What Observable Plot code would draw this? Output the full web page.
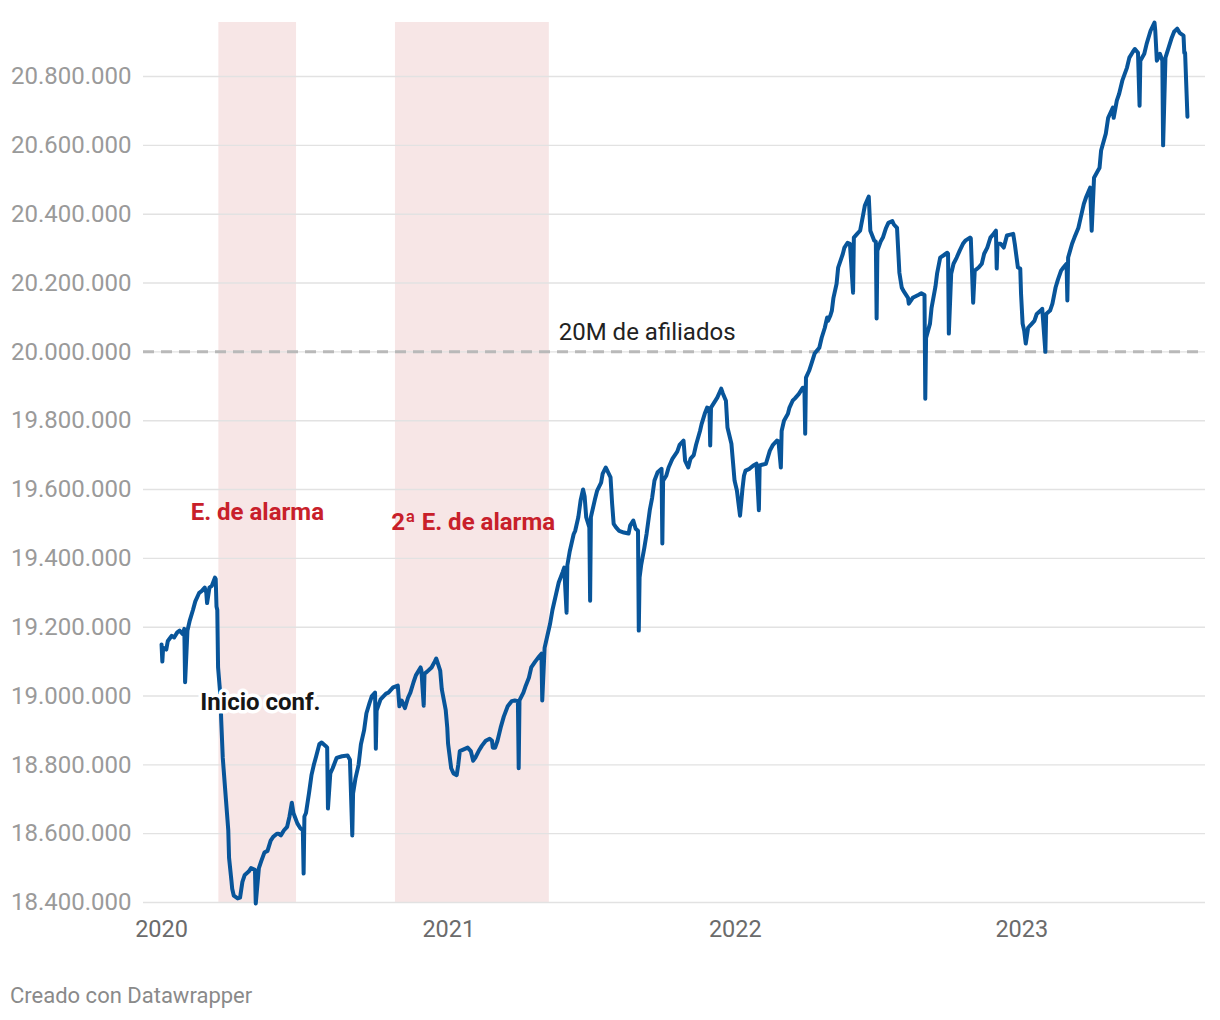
<!DOCTYPE html>
<html>
<head>
<meta charset="utf-8">
<script src="https://cdn.jsdelivr.net/npm/d3@7"></script>
<script src="https://cdn.jsdelivr.net/npm/@observablehq/plot@0.6"></script>
<style>
  html, body { margin: 0; padding: 0; background: #fff; }
  body { width: 1220px; height: 1020px; position: relative; font-family: Roboto, sans-serif; }
  #chart svg { display: block; }
  #chart g[aria-label^="y-axis"] text { fill: #9a9a9a; font-size: 24px; }
  #chart g[aria-label^="x-axis"] text { fill: #6b6b6b; font-size: 23.5px; }
  #credit { position: absolute; left: 10px; top: 983px; font-size: 22px; color: #8a8a8a; font-family: Roboto, sans-serif; }
</style>
</head>
<body>
<div id="chart"></div>
<div id="credit">Creado con Datawrapper</div>
<script>
// Afiliados a la Seguridad Social (miles), lectura aproximada del gráfico
const fechas2020 = ["2020-01-01","2020-01-02","2020-01-03","2020-01-07","2020-01-09","2020-01-14","2020-01-17","2020-01-21","2020-01-24","2020-01-28","2020-01-30","2020-01-31","2020-02-03","2020-02-06","2020-02-10","2020-02-13","2020-02-18","2020-02-21","2020-02-25","2020-02-27","2020-02-28","2020-03-02","2020-03-05","2020-03-09","2020-03-10","2020-03-11","2020-03-12","2020-03-13","2020-03-16","2020-03-17","2020-03-19","2020-03-20","2020-03-23","2020-03-25","2020-03-26","2020-03-27","2020-03-30","2020-03-31","2020-04-02","2020-04-07","2020-04-10","2020-04-13","2020-04-16","2020-04-21","2020-04-24","2020-04-29","2020-04-30","2020-05-04","2020-05-07","2020-05-11","2020-05-15","2020-05-19","2020-05-22","2020-05-27","2020-05-29","2020-06-01","2020-06-05","2020-06-09","2020-06-12","2020-06-15","2020-06-17","2020-06-22","2020-06-26","2020-06-29","2020-06-30","2020-07-01","2020-07-03","2020-07-07","2020-07-10","2020-07-13","2020-07-16","2020-07-20","2020-07-23","2020-07-28","2020-07-30","2020-07-31","2020-08-03","2020-08-06","2020-08-11","2020-08-18","2020-08-25","2020-08-28","2020-08-31","2020-09-01","2020-09-04","2020-09-08","2020-09-11","2020-09-15","2020-09-18","2020-09-22","2020-09-25","2020-09-29","2020-09-30","2020-10-01","2020-10-06","2020-10-13","2020-10-16","2020-10-22","2020-10-28","2020-10-30","2020-11-02","2020-11-06","2020-11-10","2020-11-13","2020-11-17","2020-11-20","2020-11-26","2020-11-27","2020-11-30","2020-12-01","2020-12-04","2020-12-10","2020-12-14","2020-12-16","2020-12-18","2020-12-21","2020-12-23","2020-12-28","2020-12-30","2020-12-31"];
const miles2020 = [19150,19100,19140,19135,19160,19175,19170,19185,19190,19180,19195,19040,19190,19220,19250,19275,19300,19305,19315,19300,19270,19315,19320,19344,19340,19260,19250,19083,19000,18930,18820,18790,18700,18640,18610,18530,18464,18440,18420,18412,18414,18460,18480,18490,18500,18495,18397,18500,18520,18545,18550,18580,18590,18600,18600,18595,18610,18620,18650,18690,18660,18630,18615,18610,18484,18650,18660,18720,18770,18800,18825,18860,18865,18855,18850,18673,18775,18790,18820,18825,18827,18815,18595,18717,18760,18800,18860,18900,18950,18980,19000,19010,18847,18958,18990,19007,19010,19025,19030,18970,18987,18965,18995,19010,19040,19060,19083,19075,18972,19065,19070,19083,19100,19109,19095,19074,19020,18960,18908,18862];

const fechas2021 = ["2021-01-04","2021-01-07","2021-01-11","2021-01-13","2021-01-15","2021-01-20","2021-01-25","2021-01-29","2021-02-01","2021-02-04","2021-02-08","2021-02-12","2021-02-17","2021-02-22","2021-02-25","2021-02-26","2021-03-01","2021-03-04","2021-03-08","2021-03-12","2021-03-17","2021-03-22","2021-03-26","2021-03-30","2021-03-31","2021-04-01","2021-04-06","2021-04-09","2021-04-13","2021-04-16","2021-04-21","2021-04-26","2021-04-29","2021-04-30","2021-05-03","2021-05-05","2021-05-10","2021-05-13","2021-05-18","2021-05-21","2021-05-26","2021-05-28","2021-05-31","2021-06-01","2021-06-04","2021-06-09","2021-06-11","2021-06-15","2021-06-18","2021-06-21","2021-06-23","2021-06-25","2021-06-29","2021-06-30","2021-07-01","2021-07-06","2021-07-09","2021-07-14","2021-07-16","2021-07-20","2021-07-26","2021-07-28","2021-07-30","2021-08-02","2021-08-06","2021-08-12","2021-08-18","2021-08-20","2021-08-24","2021-08-27","2021-08-30","2021-08-31","2021-09-01","2021-09-03","2021-09-07","2021-09-10","2021-09-14","2021-09-17","2021-09-20","2021-09-24","2021-09-29","2021-09-30","2021-10-01","2021-10-05","2021-10-08","2021-10-13","2021-10-19","2021-10-22","2021-10-27","2021-10-29","2021-11-02","2021-11-05","2021-11-09","2021-11-12","2021-11-17","2021-11-19","2021-11-23","2021-11-26","2021-11-29","2021-11-30","2021-12-01","2021-12-03","2021-12-09","2021-12-14","2021-12-16","2021-12-20","2021-12-22","2021-12-27","2021-12-29","2021-12-31"];
const miles2021 = [18790,18775,18770,18800,18840,18845,18850,18840,18812,18822,18840,18855,18870,18876,18870,18850,18850,18870,18908,18940,18970,18985,18987,18985,18790,18987,19010,19030,19053,19083,19100,19115,19123,18987,19140,19160,19210,19250,19300,19330,19360,19373,19242,19380,19420,19470,19480,19520,19570,19600,19580,19520,19490,19277,19520,19570,19597,19620,19646,19664,19635,19560,19500,19490,19480,19475,19472,19495,19510,19486,19480,19190,19344,19380,19430,19472,19540,19576,19626,19650,19660,19443,19626,19640,19664,19690,19710,19730,19742,19684,19664,19690,19700,19730,19770,19790,19820,19838,19835,19728,19838,19845,19867,19893,19880,19858,19780,19733,19680,19626];

const fechas2022 = ["2022-01-03","2022-01-05","2022-01-07","2022-01-10","2022-01-12","2022-01-14","2022-01-19","2022-01-24","2022-01-28","2022-01-31","2022-02-01","2022-02-04","2022-02-09","2022-02-14","2022-02-18","2022-02-23","2022-02-25","2022-02-28","2022-03-01","2022-03-04","2022-03-09","2022-03-11","2022-03-15","2022-03-18","2022-03-23","2022-03-28","2022-03-30","2022-03-31","2022-04-01","2022-04-05","2022-04-08","2022-04-12","2022-04-18","2022-04-21","2022-04-25","2022-04-28","2022-04-29","2022-05-02","2022-05-04","2022-05-06","2022-05-10","2022-05-12","2022-05-18","2022-05-20","2022-05-24","2022-05-27","2022-05-31","2022-06-01","2022-06-06","2022-06-09","2022-06-13","2022-06-15","2022-06-20","2022-06-22","2022-06-27","2022-06-29","2022-06-30","2022-07-01","2022-07-05","2022-07-08","2022-07-12","2022-07-15","2022-07-20","2022-07-22","2022-07-26","2022-07-28","2022-07-29","2022-08-01","2022-08-03","2022-08-09","2022-08-10","2022-08-15","2022-08-22","2022-08-26","2022-08-30","2022-08-31","2022-09-01","2022-09-06","2022-09-08","2022-09-13","2022-09-15","2022-09-19","2022-09-23","2022-09-28","2022-09-29","2022-09-30","2022-10-03","2022-10-06","2022-10-10","2022-10-14","2022-10-18","2022-10-21","2022-10-27","2022-10-28","2022-10-31","2022-11-02","2022-11-07","2022-11-11","2022-11-14","2022-11-18","2022-11-22","2022-11-25","2022-11-29","2022-11-30","2022-12-01","2022-12-05","2022-12-09","2022-12-13","2022-12-16","2022-12-21","2022-12-23","2022-12-27","2022-12-30","2022-12-31"];
const miles2022 = [19597,19560,19524,19600,19640,19655,19660,19670,19675,19540,19670,19672,19675,19713,19730,19742,19740,19664,19770,19800,19820,19838,19858,19865,19878,19896,19896,19762,19925,19945,19966,19995,20012,20041,20070,20100,20090,20105,20120,20157,20198,20245,20285,20303,20317,20314,20172,20332,20345,20352,20400,20425,20451,20352,20323,20320,20097,20294,20320,20332,20360,20375,20380,20370,20360,20274,20230,20187,20178,20157,20140,20157,20165,20170,20165,19864,20040,20082,20128,20190,20227,20274,20280,20288,20285,20053,20227,20256,20274,20295,20314,20323,20332,20330,20143,20236,20245,20256,20285,20303,20332,20340,20352,20242,20314,20314,20303,20338,20340,20343,20314,20245,20242,20169];

const fechas2023 = ["2023-01-02","2023-01-04","2023-01-06","2023-01-09","2023-01-13","2023-01-17","2023-01-20","2023-01-25","2023-01-27","2023-01-31","2023-02-01","2023-02-06","2023-02-09","2023-02-13","2023-02-16","2023-02-20","2023-02-23","2023-02-27","2023-02-28","2023-03-01","2023-03-06","2023-03-09","2023-03-14","2023-03-17","2023-03-21","2023-03-24","2023-03-29","2023-03-31","2023-04-03","2023-04-10","2023-04-12","2023-04-18","2023-04-21","2023-04-27","2023-04-28","2023-05-02","2023-05-05","2023-05-09","2023-05-15","2023-05-18","2023-05-22","2023-05-25","2023-05-29","2023-05-31","2023-06-01","2023-06-06","2023-06-09","2023-06-14","2023-06-19","2023-06-20","2023-06-22","2023-06-26","2023-06-29","2023-06-30","2023-07-03","2023-07-07","2023-07-11","2023-07-14","2023-07-18","2023-07-21","2023-07-26","2023-07-27","2023-07-28","2023-07-31"];
const miles2023 = [20082,20062,20024,20070,20080,20090,20110,20120,20125,20000,20110,20120,20140,20187,20210,20236,20245,20256,20149,20274,20314,20332,20360,20390,20430,20450,20477,20352,20506,20535,20585,20634,20680,20710,20680,20730,20750,20788,20826,20855,20870,20880,20869,20715,20846,20866,20895,20933,20957,20933,20846,20866,20846,20600,20855,20884,20913,20930,20939,20927,20919,20869,20869,20683];

// Estados de alarma
const periodosNombres = ["E. de alarma", "2ª E. de alarma"];
const periodosInicio = ["2020-03-14", "2020-10-25"];
const periodosFin = ["2020-06-21", "2021-05-09"];

// Ejes
const yTicks = [18400000,18600000,18800000,19000000,19200000,19400000,19600000,19800000,20000000,20200000,20400000,20600000,20800000];
const xTicks = ["2020-01-01","2021-01-01","2022-01-01","2023-01-01"];
const umbral = 20000000;

// Anotaciones (anclas en coordenadas de datos)
const notasTexto = ["E. de alarma", "2ª E. de alarma", "Inicio conf.", "20M de afiliados"];
const notasFecha = ["2020-05-02", "2021-02-01", "2020-05-06", "2021-05-21"];
const notasValor = [19533000, 19504000, 18981000, 20056000];

const parse = d3.utcParse("%Y-%m-%d");
const serie = [
  ...fechas2020.map((f, i) => ({fecha: parse(f), afiliados: miles2020[i] * 1000})),
  ...fechas2021.map((f, i) => ({fecha: parse(f), afiliados: miles2021[i] * 1000})),
  ...fechas2022.map((f, i) => ({fecha: parse(f), afiliados: miles2022[i] * 1000})),
  ...fechas2023.map((f, i) => ({fecha: parse(f), afiliados: miles2023[i] * 1000}))
];
const periodos = periodosNombres.map((n, i) => ({nombre: n, inicio: parse(periodosInicio[i]), fin: parse(periodosFin[i])}));
const notas = notasTexto.map((t, i) => ({texto: t, fecha: parse(notasFecha[i]), valor: notasValor[i]}));

const es = d3.formatLocale({decimal: ",", thousands: ".", grouping: [3], currency: ["", " €"]});
const fmt = es.format(",d");

const chart = Plot.plot({
  width: 1220,
  height: 950,
  marginTop: 22,
  marginBottom: 48,
  marginLeft: 143,
  marginRight: 15,
  style: {fontFamily: "Roboto, sans-serif", fontSize: "23px", background: "#fff"},
  x: {type: "utc", domain: [parse("2019-12-09"), parse("2023-08-23")], ticks: xTicks.map(parse), tickFormat: d3.utcFormat("%Y"), tickSize: 0, tickPadding: 18, label: null},
  y: {domain: [18400000, 20957000], ticks: yTicks, tickFormat: fmt, tickSize: 0, tickPadding: 12, label: null},
  marks: [
    Plot.rect(periodos, {x1: "inicio", x2: "fin", fill: "#f7e6e6"}),
    Plot.ruleY(yTicks, {stroke: "#e2e2e2", strokeWidth: 1.4}),
    Plot.ruleY([umbral], {stroke: "#b9b9b9", strokeWidth: 3, strokeDasharray: "11,7"}),
    Plot.line(serie, {x: "fecha", y: "afiliados", stroke: "#08559a", strokeWidth: 4, strokeLinejoin: "round", strokeLinecap: "round"}),
    Plot.text(notas.slice(0, 2), {x: "fecha", y: "valor", text: "texto", fill: "#c8202a", fontWeight: "bold", fontSize: 24}),
    Plot.text(notas.slice(2, 3), {x: "fecha", y: "valor", text: "texto", fill: "#161616", fontWeight: "bold", fontSize: 24, stroke: "#fff", strokeWidth: 7}),
    Plot.text(notas.slice(3, 4), {x: "fecha", y: "valor", text: "texto", fill: "#222", fontSize: 24, textAnchor: "start"})
  ]
});
document.getElementById("chart").appendChild(chart);
</script>
</body>
</html>
